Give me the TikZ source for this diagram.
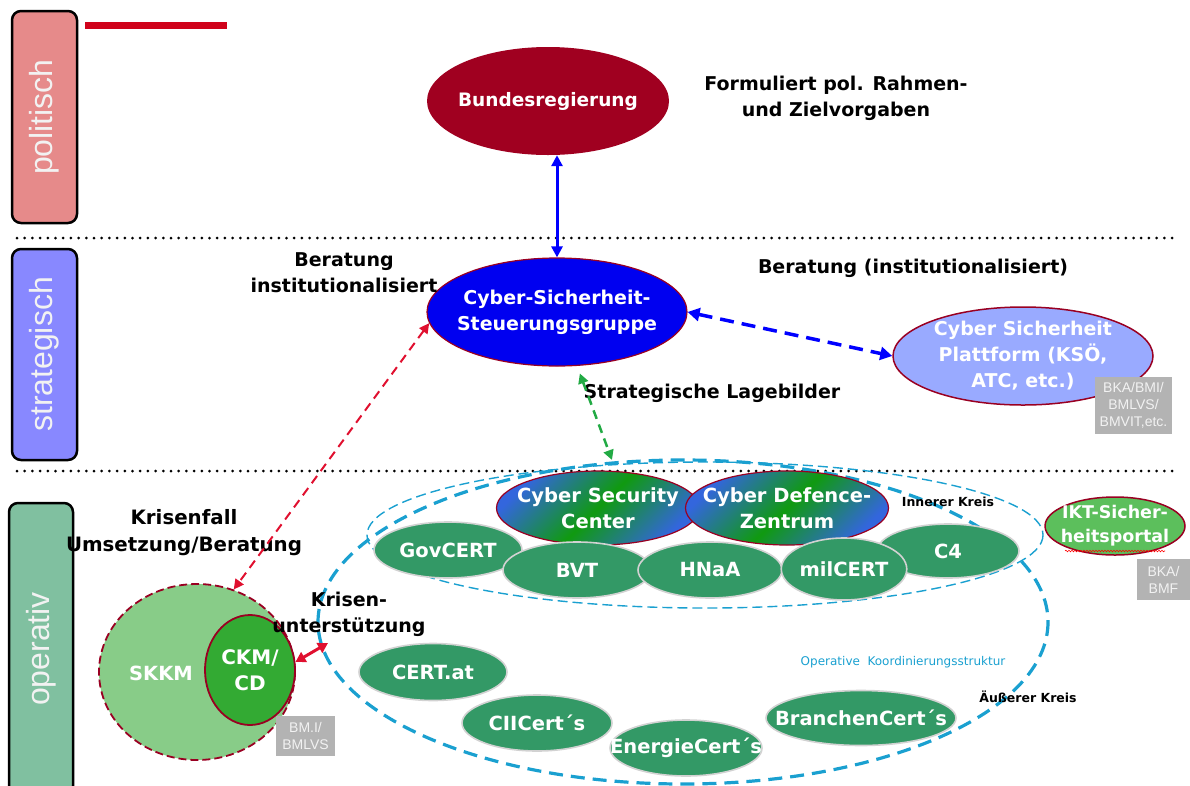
\documentclass[tikz,border=0pt]{standalone}
\usepackage{fontspec}
\setmainfont{DejaVu Sans}
\newfontfamily\arialfont{Liberation Sans}
\usetikzlibrary{shapes.geometric,arrows.meta,decorations.pathmorphing,calc}
\definecolor{bundred}{HTML}{A00020}
\definecolor{steuerblue}{HTML}{0000F0}
\definecolor{plattblue}{HTML}{99AAFF}
\definecolor{bordred}{HTML}{990022}
\definecolor{nodegreen}{HTML}{339966}
\definecolor{iktgreen}{HTML}{5CBF5C}
\definecolor{skkmgreen}{HTML}{88CC88}
\definecolor{ckmgreen}{HTML}{33AA33}
\definecolor{sidepink}{HTML}{E68A8A}
\definecolor{sideblue}{HTML}{8888FF}
\definecolor{sidegreen}{HTML}{80C0A0}
\definecolor{greyfill}{HTML}{B3B3B3}
\definecolor{greytext}{HTML}{F2F2F2}
\definecolor{dashblue}{HTML}{1AA0D0}
\definecolor{arrred}{HTML}{E0102F}
\definecolor{arrgreen}{HTML}{22AA44}
\definecolor{barred}{HTML}{D0021B}
\definecolor{gradblue}{HTML}{3366DD}
\definecolor{gradgreen}{HTML}{109A10}
\begin{document}
\begin{tikzpicture}[x=1pt,y=-1pt,
  sidebox/.style={rotate=90, rounded corners=9pt, draw=black, line width=2.5pt, inner sep=0pt,
    font=\arialfont\fontsize{32}{32}\selectfont, text=greytext},
  lbl/.style={font=\bfseries\fontsize{19}{26}\selectfont, align=center, text=black, inner sep=0pt},
  smalllbl/.style={font=\bfseries\fontsize{12.5}{15}\selectfont, text=black, inner sep=0pt},
  shp/.style={ellipse, inner sep=0pt},
  wtxt/.style={inner sep=0pt, align=center, text=white, font=\bfseries\fontsize{19}{26}\selectfont},
  gnode/.style={ellipse, inner sep=0pt, align=center, fill=nodegreen, draw=gray!35, line width=1.6pt,
    text=white, font=\bfseries\fontsize{19.5}{24}\selectfont},
  grad/.style={ellipse, inner sep=0pt, draw=bordred, line width=1.2pt,
    top color=gradblue, bottom color=gradblue, middle color=gradgreen, shading angle=45},
  greybox/.style={fill=greyfill, inner sep=0pt, align=center, text=greytext,
    font=\arialfont\fontsize{14}{17}\selectfont},
  dotline/.style={line width=3pt, dash pattern=on 0pt off 7.7pt, line cap=round},
  bluearr/.style={draw=blue, line width=3pt, {Triangle[length=11pt,width=11pt]}-{Triangle[length=11pt,width=11pt]}},
  bluedash/.style={draw=blue, line width=3.5pt, dash pattern=on 14pt off 8pt,
    {Triangle[length=12pt,width=13pt]}-{Triangle[length=12pt,width=13pt]}},
  greendash/.style={draw=arrgreen, line width=2.5pt, dash pattern=on 9pt off 6pt,
    {Triangle[length=10pt,width=10pt]}-{Triangle[length=10pt,width=10pt]}},
  reddash/.style={draw=arrred, line width=2pt, dash pattern=on 9pt off 6pt,
    {Triangle[length=10pt,width=10pt]}-{Triangle[length=10pt,width=10pt]}},
  redshort/.style={draw=arrred, line width=3pt,
    {Triangle[length=10pt,width=11pt]}-{Triangle[length=10pt,width=11pt]}},
  outerring/.style={draw=dashblue, line width=3.2pt, dash pattern=on 14pt off 8pt},
  innerring/.style={draw=dashblue, line width=1.4pt, dash pattern=on 10pt off 5pt}
]
\useasboundingbox (0,0) rectangle (1190,785);

% side boxes
\node[sidebox, fill=sidepink, minimum width=212pt, minimum height=65pt] (pol) at (44.5,117) {politisch};
\node[sidebox, fill=sideblue, minimum width=211pt, minimum height=65pt] (str) at (44.5,354.5) {strategisch};
\node[sidebox, fill=sidegreen, minimum width=292pt, minimum height=64pt] (op) at (41,649) {operativ};

% red bar
\fill[barred] (85,22) rectangle (227,29);

% dotted separators
\draw[dotline] (17,238) -- (1172,238);
\draw[dotline] (17,471) -- (1172,471);

% coordination rings
\draw[outerring] (683,622) ellipse [x radius=365, y radius=162];
\draw[innerring] (705,535) ellipse [x radius=338, y radius=73];

% political / strategic nodes
\node[shp, fill=bundred, minimum width=242pt, minimum height=108pt] (bund) at (548,101) {};
\node[wtxt, font=\bfseries\fontsize{18.5}{24}\selectfont] (bundtxt) at (bund) {Bundesregierung};
\node[shp, fill=steuerblue, draw=bordred, line width=1.2pt, minimum width=260pt, minimum height=108pt] (steuer) at (557,312) {};
\node[wtxt] (steuertxt) at (steuer) {Cyber-Sicherheit-\\Steuerungsgruppe};
\node[shp, fill=plattblue, draw=bordred, line width=1.5pt, minimum width=260pt, minimum height=98pt] (platt) at (1023,356) {};
\node[wtxt] (platttxt) at (platt) {Cyber Sicherheit\\Plattform (KSÖ,\\ATC, etc.)};

% cyber centres
\node[grad, minimum width=203pt, minimum height=74pt] (csc) at (598,508) {};
\node[wtxt, font=\bfseries\fontsize{19.5}{26}\selectfont] (csctxt) at (csc) {Cyber Security\\Center};
\node[grad, minimum width=203pt, minimum height=74pt] (cdz) at (787,508) {};
\node[wtxt, font=\bfseries\fontsize{19.5}{26}\selectfont] (cdztxt) at (cdz) {Cyber Defence-\\Zentrum};

% inner circle nodes
\node[gnode, minimum width=148pt, minimum height=56pt] (gov) at (448,550) {GovCERT};
\node[gnode, minimum width=148pt, minimum height=56pt] (bvt) at (577,570) {BVT};
\node[gnode, minimum width=144pt, minimum height=56pt] (hnaa) at (710,570) {HNaA};
\node[gnode, minimum width=142pt, minimum height=54pt] (c4) at (948,551) {C4};
\node[gnode, minimum width=125pt, minimum height=62pt] (mil) at (844,569) {milCERT};

% outer circle nodes
\node[gnode, minimum width=148pt, minimum height=57pt] (certat) at (433,672) {CERT.at};
\node[gnode, minimum width=150pt, minimum height=56pt] (cii) at (537,723) {CIICert´s};
\node[gnode, minimum width=152pt, minimum height=56pt] (energie) at (686,748) {};
\node[wtxt, font=\bfseries\fontsize{19.5}{24}\selectfont] (energietxt) at (energie) {EnergieCert´s};
\node[gnode, minimum width=190pt, minimum height=55pt] (branchen) at (861,718) {};
\node[wtxt, font=\bfseries\fontsize{19.5}{24}\selectfont] (branchentxt) at (branchen) {BranchenCert´s};

% IKT portal
\node[shp, fill=iktgreen, draw=bordred, line width=1.5pt, minimum width=140pt, minimum height=58pt] (ikt) at (1115,526) {};
\node[wtxt, font=\bfseries\fontsize{17.5}{24}\selectfont] (ikttxt) at (ikt) {IKT-Sicher-\\heitsportal};
\draw[red, line width=0.6pt, decorate, decoration={snake, amplitude=0.8pt, segment length=3pt}]
  ($(ikt.center)+(-50,25)$) -- ($(ikt.center)+(50,25)$);

% SKKM
\node[shp, fill=skkmgreen, draw=bordred, line width=1.8pt, dash pattern=on 8pt off 4pt,
  minimum width=196pt, minimum height=176pt] (skkm) at (197,672) {};
\node[wtxt, font=\bfseries\fontsize{19.5}{24}\selectfont] (skkmtxt) at (161,673) {SKKM};
\node[shp, fill=ckmgreen, draw=bordred, line width=1.8pt, minimum width=90pt, minimum height=110pt] (ckm) at (250,670) {};
\node[wtxt, font=\bfseries\fontsize{20}{26}\selectfont] (ckmtxt) at (ckm) {CKM/\\CD};

% grey boxes
\node[greybox, minimum width=77pt, minimum height=57pt] (gb1) at (1133.5,405.5) {BKA/BMI/\\BMLVS/\\BMVIT,etc.};
\node[greybox, minimum width=53pt, minimum height=41pt] (gb2) at (1163.5,579.5) {BKA/\\BMF};
\node[greybox, minimum width=59pt, minimum height=40pt] (gb3) at (305.5,736) {BM.I/\\BMLVS};

% labels
\node[lbl] (lformul) at (836,98) {Formuliert pol. Rahmen-\\und Zielvorgaben};
\node[lbl] (lberat1) at (344,273) {Beratung\\institutionalisiert};
\node[lbl] (lberat2) at (913,268) {Beratung (institutionalisiert)};
\node[lbl] (llage) at (712,393) {Strategische Lagebilder};
\node[lbl, font=\bfseries\fontsize{19.8}{27}\selectfont] (lkrisen) at (184,533) {Krisenfall\\Umsetzung/Beratung};
\node[lbl] (lkrisunt) at (349,614) {Krisen-\\unterstützung};
\node[smalllbl] (linner) at (948,502) {Innerer Kreis};
\node[smalllbl] (louter) at (1028,697) {Äußerer Kreis};
\node[font=\fontsize{12}{14}\selectfont, text=dashblue, inner sep=0pt] (lopk) at (903,662) {Operative\ \ Koordinierungsstruktur};

% connectors
\coordinate (lagebot) at (612,460);
\coordinate (krisend) at (328,643);
\draw[bluearr] (steuer.north) -- (bund.south -| steuer.north);
\draw[bluedash] (steuer.east) -- (platt.west);
\draw[greendash, shorten <=8pt] (steuer) -- (lagebot);
\draw[reddash] (steuer.185) -- (skkm.66);
\draw[redshort] (ckm.10) -- (krisend);
\end{tikzpicture}
\end{document}
